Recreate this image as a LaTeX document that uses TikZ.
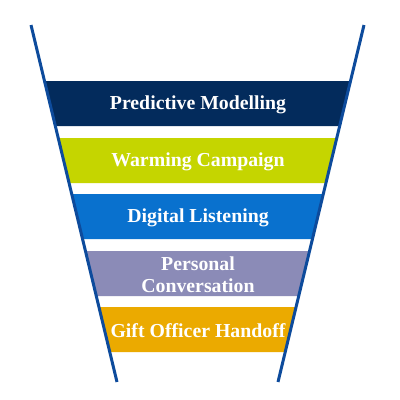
\documentclass[tikz,border=0pt]{standalone}
\usepackage{fontspec}
\setmainfont{Liberation Serif}
\definecolor{cNavy}{HTML}{032B5C}
\definecolor{cLime}{HTML}{C5D500}
\definecolor{cBlue}{HTML}{0971CE}
\definecolor{cLav}{HTML}{8B8BB7}
\definecolor{cGold}{HTML}{EBAA00}
\definecolor{cLine}{HTML}{0D4B9C}
\tikzset{
  lbl/.style={text=white, font=\bfseries\fontsize{19.8}{22}\selectfont, align=center, inner sep=0pt},
  wall/.style={draw=cLine, line width=3pt}
}
\begin{document}
\begin{tikzpicture}[x=1pt,y=-1pt]
\useasboundingbox (0,0) rectangle (400,400);
\fill[white] (0,0) rectangle (400,400);
% bands
\fill[cNavy] (44.5,81) -- (350.5,81) -- (339.7,126) -- (55.3,126) -- cycle;
\fill[cLime] (58.2,138) -- (336.8,138) -- (326.0,183) -- (69.1,183) -- cycle;
\fill[cBlue] (71.7,194) -- (323.3,194) -- (312.5,239) -- (82.6,239) -- cycle;
\fill[cLav] (85.4,251) -- (309.6,251) -- (298.7,296) -- (96.3,296) -- cycle;
\fill[cGold] (98.9,307) -- (296.1,307) -- (285.2,352) -- (109.8,352) -- cycle;
% labels
\node[lbl] (b1) at (198,105) {Predictive Modelling};
\node[lbl] (b2) at (198,162) {Warming Campaign};
\node[lbl] (b3) at (198,218) {Digital Listening};
\node[lbl] (b4) at (198,275) {Personal\\Conversation};
\node[lbl] (b5) at (198,331) {Gift Officer Handoff};
% funnel walls
\coordinate (lt) at (31,25);
\coordinate (lb) at (117,382);
\coordinate (rt) at (364,25);
\coordinate (rb) at (278,382);
\draw[wall] (lt) -- (lb);
\draw[wall] (rt) -- (rb);
\end{tikzpicture}
\end{document}
